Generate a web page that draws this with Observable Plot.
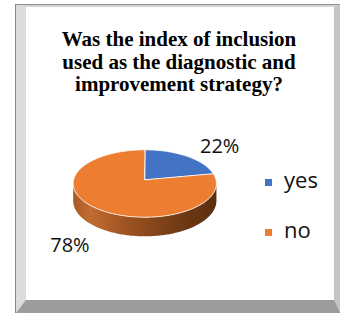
<!DOCTYPE html>
<html><head><meta charset="utf-8">
<script src="https://cdn.jsdelivr.net/npm/d3@7"></script>
<script src="https://cdn.jsdelivr.net/npm/@observablehq/plot@0.6"></script>
<style>
body{margin:0;background:#fff;}
#wrap{position:relative;width:340px;height:313px;overflow:hidden;background:#fff;}
.frame{position:absolute;left:15px;top:4px;width:325px;height:309px;box-sizing:border-box;border-left:1px solid #858585;border-top:1px solid #8f8f8f;}
.inner{width:100%;height:100%;box-sizing:border-box;background:#fff;border-style:solid;border-width:2px 6px 13px 10px;border-color:#d4d4d4 #c4c4c4 #9c9c9c #dcdcdc;}
#title{position:absolute;left:26px;width:306px;top:28px;text-align:center;font-family:"Liberation Serif","Times New Roman",serif;font-weight:bold;font-size:21px;line-height:22.5px;color:#000;}
#chart{position:absolute;left:0;top:0;}
.lg-sw{position:absolute;width:7px;height:7px;}
.lg-tx{position:absolute;font-family:"Open Sans",sans-serif;font-size:22px;line-height:24px;color:#111;}
</style></head><body>
<div id="wrap">
 <div class="frame"><div class="inner"></div></div>
 <div id="chart"></div>
 <div id="title"></div>
 <div id="legend"></div>
</div>
<script>
const categories = ["yes", "no"];
const values = [22, 78];
const colors = ["#4472c4", "#ed7d31"];
const labels = ["22%", "78%"];
const titleLines = ["Was the index of inclusion", "used as the diagnostic and", "improvement strategy?"];

// 3D pie geometry (styling)
const P = 0.11;   // perspective
const DZ = 0.51;  // side depth in y units
function proj(deg, z) {
  const t = deg * Math.PI / 180;
  const u = Math.sin(t), v = -Math.cos(t);
  const s = 1 / (1 - P * v);
  return {x: u * s, y: (v + z) * s};
}

const total = d3.sum(values);
let cum = 0;
const slices = categories.map((c, i) => {
  const start = cum / total * 360;
  cum += values[i];
  const end = cum / total * 360;
  return {cat: c, start, end, label: labels[i]};
});

// top faces
const topRows = [];
slices.forEach(s => {
  topRows.push({cat: s.cat, x: 0, y: 0});
  const n = Math.max(2, Math.ceil(s.end - s.start));
  for (let k = 0; k <= n; k++) {
    const p = proj(s.start + (s.end - s.start) * k / n, 0);
    topRows.push({cat: s.cat, x: p.x, y: p.y});
  }
});

// visible side walls (front half)
const silA = Math.acos(-P) * 180 / Math.PI, silB = 360 - silA;
const sideRows = [];
slices.forEach(s => {
  const a = Math.max(s.start, silA), b = Math.min(s.end, silB);
  if (b <= a) return;
  const n = Math.ceil(b - a);
  for (let k = 0; k <= n; k++) { const p = proj(a + (b - a) * k / n, 0); sideRows.push({cat: s.cat, x: p.x, y: p.y}); }
  for (let k = n; k >= 0; k--) { const p = proj(a + (b - a) * k / n, DZ); sideRows.push({cat: s.cat, x: p.x, y: p.y}); }
});

// data labels
const labelRows = slices.map(s => {
  const t = (s.start + s.end) / 2 * Math.PI / 180;
  const v = -Math.cos(t);
  return {text: s.label, x: Math.sin(t) * 1.65, y: v * 1.3 + (v > 0 ? DZ + 0.45 : 0)};
});

const chart = Plot.plot({
  width: 340, height: 313, margin: 0,
  x: {domain: [-1, 1], range: [144.3 - 71.2, 144.3 + 71.2], axis: null},
  y: {domain: [-1, 1], range: [179.3 - 33.3, 179.3 + 33.3], axis: null},
  color: {domain: categories, range: colors},
  style: {background: "transparent", overflow: "visible"},
  marks: [
    Plot.line(sideRows, {x: "x", y: "y", z: "cat", fill: "url(#sideGrad)", stroke: "none", curve: "linear-closed"}),
    Plot.line(topRows, {x: "x", y: "y", z: "cat", fill: "cat", stroke: "#ffffff", strokeWidth: 1, strokeOpacity: 0.85, strokeLinejoin: "round", curve: "linear-closed"}),
    Plot.text(labelRows, {x: "x", y: "y", text: "text", fontSize: 20, fontFamily: "Open Sans", fill: "#111"})
  ]
});
d3.select(chart).insert("defs", ":first-child").html(
  `<linearGradient id="sideGrad" x1="0" x2="1" y1="0" y2="0">
     <stop offset="0" stop-color="#a85a24"/>
     <stop offset="0.12" stop-color="#c06c30"/>
     <stop offset="0.4" stop-color="#9a5020"/>
     <stop offset="0.75" stop-color="#703a15"/>
     <stop offset="1" stop-color="#5a2e10"/>
   </linearGradient>`);
document.getElementById("chart").appendChild(chart);

document.getElementById("title").innerHTML = titleLines.map(t => `<div>${t}</div>`).join("");

const lg = document.getElementById("legend");
categories.forEach((c, i) => {
  const top = 179 + i * 50;
  const sw = document.createElement("div");
  sw.className = "lg-sw"; sw.style.left = "265px"; sw.style.top = top + "px"; sw.style.background = colors[i];
  const tx = document.createElement("div");
  tx.className = "lg-tx"; tx.style.left = "284px"; tx.style.top = (top - 12) + "px"; tx.textContent = c;
  lg.appendChild(sw); lg.appendChild(tx);
});
</script>
</body></html>
